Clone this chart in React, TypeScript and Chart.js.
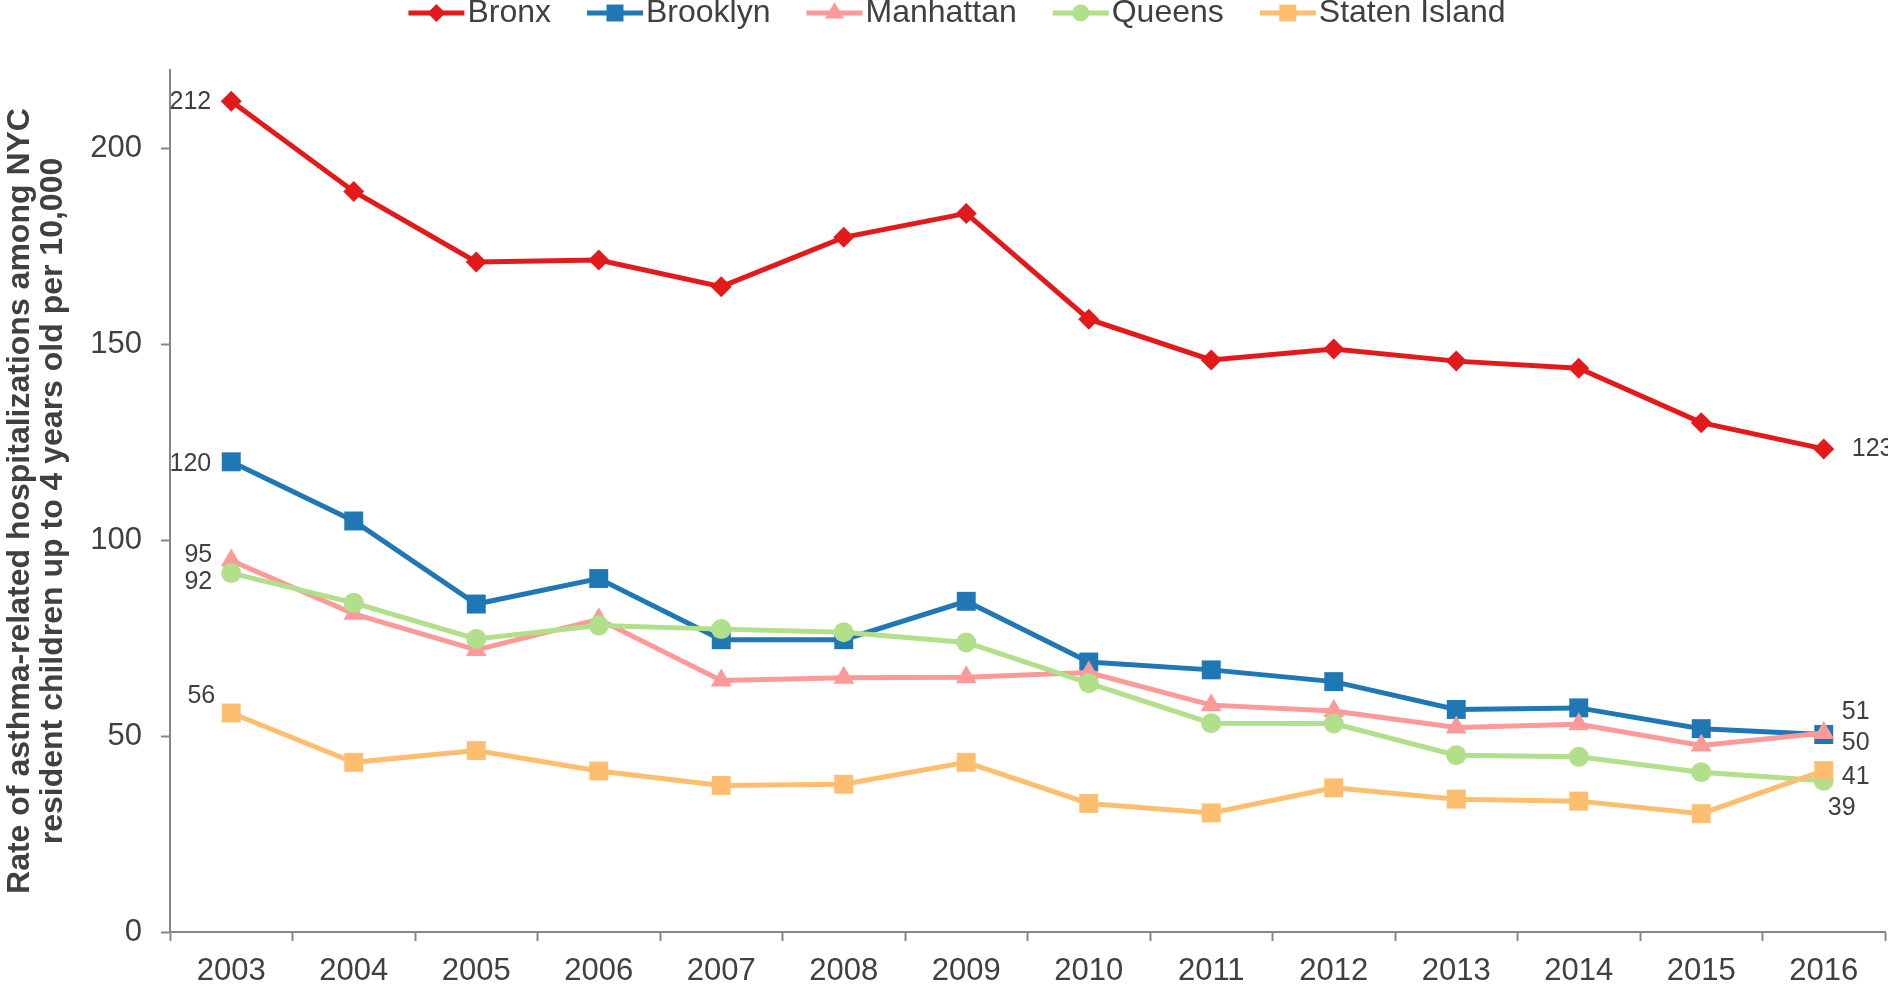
import React, { useEffect, useRef } from "react";
import { Chart, registerables } from "chart.js";
import { drawPoint } from "chart.js/helpers";

Chart.register(...registerables);

const years = ["2003", "2004", "2005", "2006", "2007", "2008", "2009", "2010", "2011", "2012", "2013", "2014", "2015", "2016"];
const bronx = [212, 189, 171, 171.5, 164.7, 177.3, 183.4, 156.4, 146, 148.8, 145.7, 143.9, 130, 123.3];
const brooklyn = [120, 104.9, 83.7, 90.2, 74.6, 74.6, 84.4, 68.9, 66.9, 63.9, 56.8, 57.2, 51.9, 50.4];
const manhattan = [94.8, 81.2, 72, 79.8, 64.2, 64.9, 65, 66.2, 57.9, 56.4, 52.2, 53, 47.6, 50.8];
const queens = [91.6, 84, 74.8, 78.2, 77.3, 76.5, 73.9, 63.5, 53.3, 53.2, 45.1, 44.7, 40.8, 38.6];
const statenIsland = [55.9, 43.3, 46.3, 41.1, 37.4, 37.7, 43.3, 32.8, 30.4, 36.8, 33.9, 33.4, 30.2, 41.2];

const seriesNames = ["Bronx", "Brooklyn", "Manhattan", "Queens", "Staten Island"];
const seriesData = [bronx, brooklyn, manhattan, queens, statenIsland];
const yTickValues = [0, 50, 100, 150, 200];
const yTitle = [
  "Rate of asthma-related hospitalizations among NYC",
  "resident children up to 4 years old per 10,000",
];

const COLORS = ["#E31A1C", "#1F78B4", "#FB9A99", "#B2DF8A", "#FDBF6F"];
const STYLES = ["rectRot", "rect", "triangle", "circle", "rect"];
const RADII = [10.5, 13.4, 12, 10, 13.4];
const LEGEND_RADII = [9, 12, 11, 8.5, 12];
const TEXT = "#404040";
const AXIS = "#868686";
const FONT = "'Liberation Sans', Arial, Helvetica, sans-serif";

// label placement relative to first / last point: [dx, dy, align]
const END_LABEL_POS: Array<{ first: [number, number, CanvasTextAlign]; last: [number, number, CanvasTextAlign] }> = [
  { first: [-20, 1, "right"], last: [28, 0, "left"] },
  { first: [-20, 2, "right"], last: [18, 9, "left"] },
  { first: [-19, -5, "right"], last: [18, -21, "left"] },
  { first: [-19, 9, "right"], last: [4, 27, "left"] },
  { first: [-16, -17, "right"], last: [18, 6.5, "left"] },
];

const endLabelsPlugin = {
  id: "endLabels",
  afterDatasetsDraw(chart: any) {
    const ctx = chart.ctx as CanvasRenderingContext2D;
    ctx.save();
    ctx.font = `25px ${FONT}`;
    ctx.fillStyle = TEXT;
    ctx.textBaseline = "middle";
    chart.data.datasets.forEach((ds: any, i: number) => {
      const meta = chart.getDatasetMeta(i);
      const pts = meta.data;
      const pos = END_LABEL_POS[i];
      const first = pts[0];
      const last = pts[pts.length - 1];
      const v0 = ds.data[0];
      const v1 = ds.data[ds.data.length - 1];
      ctx.textAlign = pos.first[2];
      ctx.fillText(String(Math.round(v0)), first.x + pos.first[0], first.y + pos.first[1]);
      ctx.textAlign = pos.last[2];
      ctx.fillText(String(Math.round(v1)), last.x + pos.last[0], last.y + pos.last[1]);
    });
    ctx.restore();
  },
};

const legendPlugin = {
  id: "lineLegend",
  afterDraw(chart: any) {
    const ctx = chart.ctx as CanvasRenderingContext2D;
    ctx.save();
    ctx.font = `32px ${FONT}`;
    const lineW = 56;
    const gapText = 3;
    const gapItem = 36;
    const widths = seriesNames.map((n) => lineW + gapText + ctx.measureText(n).width);
    const total = widths.reduce((a, b) => a + b, 0) + gapItem * (widths.length - 1);
    let x = 957 - total / 2;
    const y = 13;
    seriesNames.forEach((name, i) => {
      ctx.strokeStyle = COLORS[i];
      ctx.lineWidth = 5;
      ctx.beginPath();
      ctx.moveTo(x, y);
      ctx.lineTo(x + lineW, y);
      ctx.stroke();
      ctx.fillStyle = COLORS[i];
      drawPoint(ctx, { pointStyle: STYLES[i] as any, rotation: 0, radius: LEGEND_RADII[i], borderWidth: 0 } as any, x + lineW / 2, y);
      ctx.fillStyle = TEXT;
      ctx.textAlign = "left";
      ctx.textBaseline = "middle";
      ctx.fillText(name, x + lineW + gapText, y);
      x += widths[i] + gapItem;
    });
    ctx.restore();
  },
};

export default function App() {
  const ref = useRef<HTMLCanvasElement | null>(null);

  useEffect(() => {
    if (!ref.current) return;
    const chart = new Chart(ref.current, {
      type: "line",
      data: {
        labels: years,
        datasets: seriesNames.map((name, i) => ({
          label: name,
          data: seriesData[i],
          borderColor: COLORS[i],
          backgroundColor: COLORS[i],
          borderWidth: 5,
          pointStyle: STYLES[i] as any,
          pointRadius: RADII[i],
          pointHoverRadius: RADII[i],
          pointBackgroundColor: COLORS[i],
          pointBorderColor: COLORS[i],
          pointBorderWidth: 0,
          tension: 0,
          fill: false,
          clip: false,
          order: seriesNames.length - i,
        })),
      },
      options: {
        responsive: false,
        animation: false,
        layout: { autoPadding: false, padding: { top: 70, right: 3, left: 0, bottom: 0 } },
        plugins: {
          legend: { display: false },
          tooltip: { enabled: false },
        },
        scales: {
          x: {
            type: "category",
            offset: true,
            ticks: { color: TEXT, font: { family: FONT, size: 31 }, padding: 12, maxRotation: 0, autoSkip: false },
            grid: { drawOnChartArea: false, drawTicks: true, tickLength: 9, tickColor: AXIS, tickWidth: 2, offset: true },
            border: { display: true, color: AXIS, width: 2 },
            afterFit: (s: any) => {
              s.height = 58;
              s.paddingLeft = 0;
              s.paddingRight = 0;
            },
          },
          y: {
            min: 0,
            max: 220,
            bounds: "data",
            afterBuildTicks: (s: any) => {
              s.ticks = yTickValues.map((v) => ({ value: v }));
            },
            ticks: { color: TEXT, font: { family: FONT, size: 31 }, padding: 19 },
            grid: { drawOnChartArea: false, drawTicks: true, tickLength: 9, tickColor: AXIS, tickWidth: 2 },
            border: { display: true, color: AXIS, width: 2 },
            title: {
              display: true,
              text: yTitle,
              color: TEXT,
              font: { family: FONT, size: 32, weight: "bold", lineHeight: 1.05 },
              padding: { top: 3, bottom: 0 },
            },
            afterFit: (s: any) => {
              s.width = 170;
              s.paddingTop = 0;
              s.paddingBottom = 0;
            },
          },
        },
      } as any,
      plugins: [endLabelsPlugin, legendPlugin],
    });
    return () => chart.destroy();
  }, []);

  return (
    <div style={{ position: "fixed", left: 0, top: 0, width: 1888, height: 990, background: "#fff" }}>
      <canvas ref={ref} width={1888} height={990} style={{ display: "block", width: 1888, height: 990 }} />
    </div>
  );
}
